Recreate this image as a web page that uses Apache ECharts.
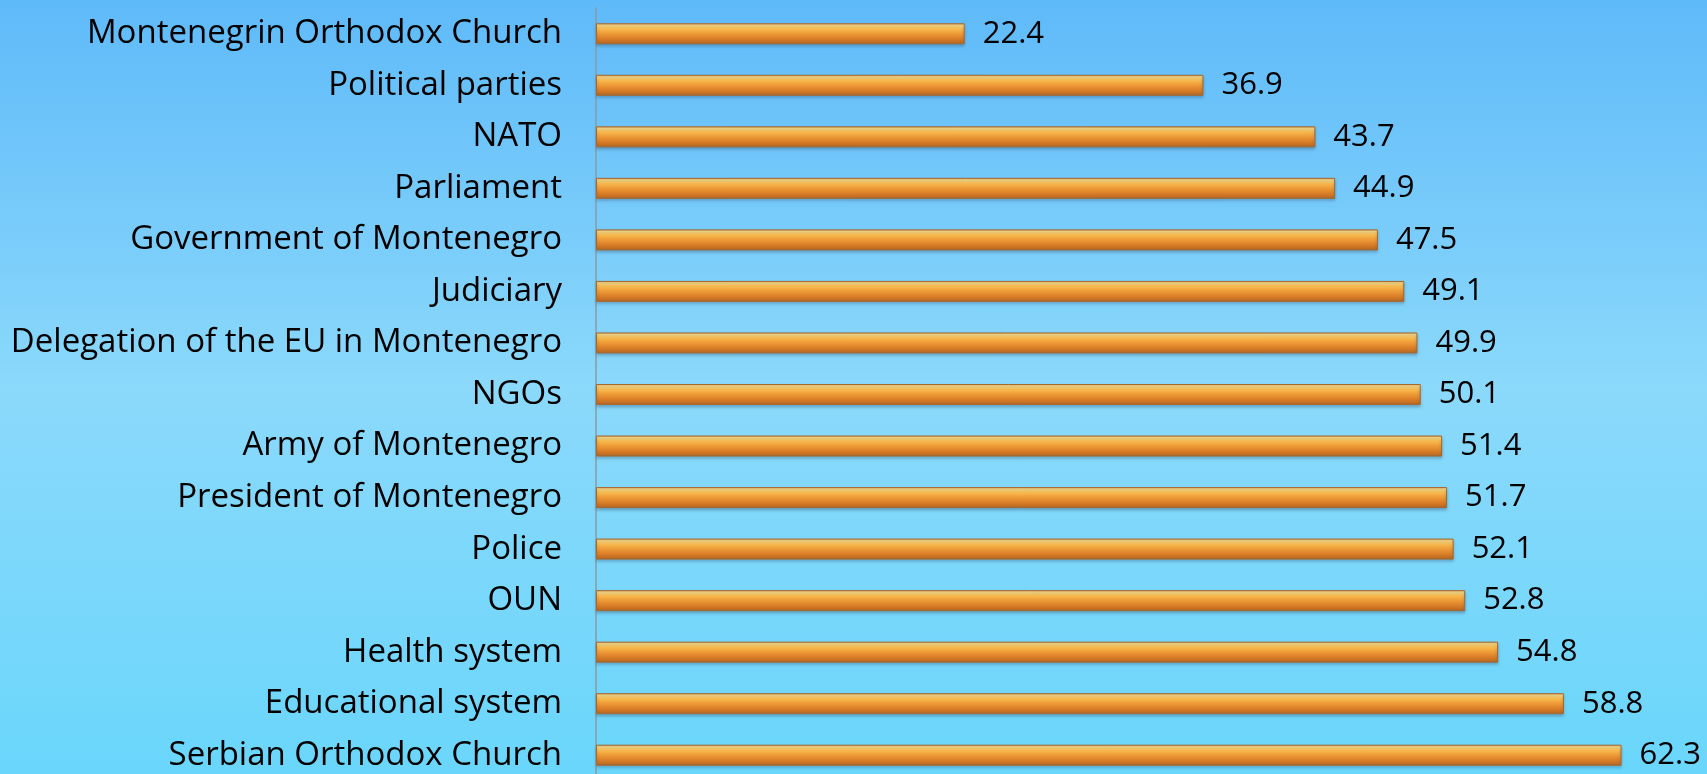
<!DOCTYPE html>
<html>
<head>
<meta charset="utf-8">
<script src="https://cdn.jsdelivr.net/npm/echarts@6/dist/echarts.min.js"></script>
<style>
  html, body { margin: 0; padding: 0; }
  #chart { width: 1707px; height: 774px; }
</style>
</head>
<body>
<div id="chart"></div>
<script>
// institutions, top to bottom
const institutions = [
  'Montenegrin Orthodox Church',
  'Political parties',
  'NATO',
  'Parliament',
  'Government of Montenegro',
  'Judiciary',
  'Delegation of the EU in Montenegro',
  'NGOs',
  'Army of Montenegro',
  'President of Montenegro',
  'Police',
  'OUN',
  'Health system',
  'Educational system',
  'Serbian Orthodox Church',
]
const trustValues = [22.4, 36.9, 43.7, 44.9, 47.5, 49.1, 49.9, 50.1, 51.4, 51.7, 52.1, 52.8, 54.8, 58.8, 62.3]

const chart = echarts.init(document.getElementById('chart'))

// bar look: glossy orange tube
const barFill = new echarts.graphic.LinearGradient(0, 0, 0, 1, [
  { offset: 0, color: '#d9a05a' },
  { offset: 0.1, color: '#fddc85' },
  { offset: 0.25, color: '#f8bd52' },
  { offset: 0.45, color: '#f0a03a' },
  { offset: 0.7, color: '#de822a' },
  { offset: 0.9, color: '#c46e22' },
  { offset: 1, color: '#8c6a50' },
])

const option = {
  backgroundColor: new echarts.graphic.LinearGradient(0, 0, 0, 1, [
    { offset: 0, color: '#5fbaf9' },
    { offset: 0.5, color: '#8bd9fb' },
    { offset: 1, color: '#6ad6fb' },
  ]),
  grid: { left: 596, top: 8, width: 1070, height: 773, outerBoundsMode: 'none', containLabel: false },
  xAxis: {
    type: 'value',
    min: 0,
    max: 65,
    show: false,
  },
  yAxis: {
    type: 'category',
    data: institutions,
    inverse: true,
    axisLine: { show: true, lineStyle: { color: '#8c9aa3', width: 1.5 } },
    axisTick: { show: false },
    axisLabel: {
      margin: 34,
      color: '#000',
      fontFamily: 'Open Sans',
      fontSize: 33,
    },
  },
  series: [
    {
      type: 'bar',
      data: trustValues,
      barWidth: 21,
      itemStyle: {
        color: barFill,
        borderColor: '#a8692c',
        borderWidth: 1,
        shadowColor: 'rgba(40,60,90,0.35)',
        shadowOffsetY: 2,
        shadowBlur: 3,
      },
      label: {
        show: true,
        position: 'right',
        distance: 18,
        color: '#000',
        fontFamily: 'Open Sans',
        fontSize: 31,
        formatter: p => p.value.toFixed(1),
      },
    },
  ],
}

chart.setOption(option)
</script>
</body>
</html>
